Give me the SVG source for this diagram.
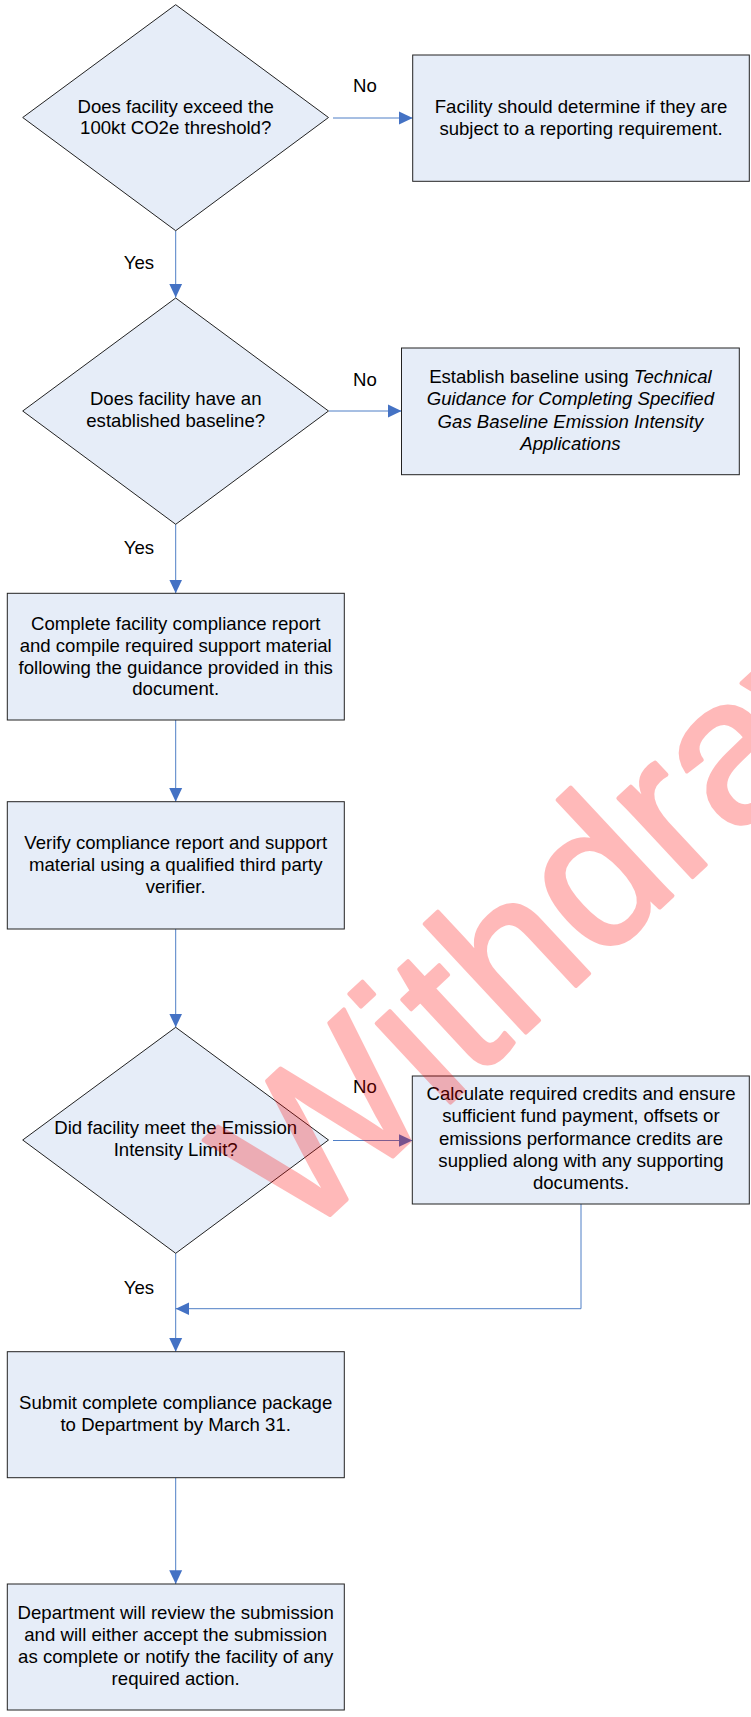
<svg xmlns="http://www.w3.org/2000/svg" width="751" height="1717" viewBox="0 0 751 1717">
<style>
.shape{fill:#e6edf8;stroke:#222;stroke-width:1}
.t{font-family:"Liberation Sans",Arial,sans-serif;font-size:18.6px;fill:#000;text-anchor:middle}
.i{font-style:italic}
.c{fill:none;stroke:#4f7fc6;stroke-width:1}
.wm{font-family:"Liberation Sans",Arial,sans-serif;font-size:205px;fill:#ff0000;stroke:#ff0000;stroke-width:4;stroke-linejoin:round}
</style>
<defs>
<marker id="ah" markerUnits="userSpaceOnUse" markerWidth="14" markerHeight="14" viewBox="0 0 13 12" refX="12.7" refY="6" orient="auto">
<path d="M0,0 L12.7,6 L0,12 Z" fill="#4472c4"/>
</marker>
</defs>
<rect width="751" height="1717" fill="#fff"/>

<g id="connectors">
<path class="c" d="M333,118 H412.7" marker-end="url(#ah)"/>
<path class="c" d="M175.7,231 V297.5" marker-end="url(#ah)"/>
<path class="c" d="M329,411 H401.5" marker-end="url(#ah)"/>
<path class="c" d="M175.7,524.3 V593.3" marker-end="url(#ah)"/>
<path class="c" d="M175.7,720 V801.7" marker-end="url(#ah)"/>
<path class="c" d="M175.7,929 V1027.3" marker-end="url(#ah)"/>
<path class="c" d="M333,1140.5 H412.3" marker-end="url(#ah)"/>
<path class="c" d="M175.7,1253.3 V1351.7" marker-end="url(#ah)"/>
<path class="c" d="M581,1204 V1308.7 H175.7" marker-end="url(#ah)"/>
<path class="c" d="M175.7,1477.7 V1584" marker-end="url(#ah)"/>
</g>

<g id="labels">
<text class="t" x="365" y="92.3">No</text>
<text class="t" x="139" y="269.3">Yes</text>
<text class="t" x="365" y="385.7">No</text>
<text class="t" x="139" y="554">Yes</text>
<text class="t" x="365" y="1093.3">No</text>
<text class="t" x="139" y="1294.3">Yes</text>
</g>

<g id="d1">
<polygon class="shape" points="175.7,4.7 328.5,117.5 175.7,230.7 22.7,117.5"/>
<text class="t" x="175.7" y="112.7">Does facility exceed the</text>
<text class="t" x="175.7" y="134">100kt CO2e threshold?</text>
</g>

<g id="b1">
<rect class="shape" x="412.7" y="55" width="336.6" height="126.3"/>
<text class="t" x="581" y="113.3">Facility should determine if they are</text>
<text class="t" x="581" y="135">subject to a reporting requirement.</text>
</g>

<g id="d2">
<polygon class="shape" points="175.7,298 328.5,411 175.7,524.3 22.7,411"/>
<text class="t" x="175.7" y="405.4">Does facility have an</text>
<text class="t" x="175.7" y="427">established baseline?</text>
</g>

<g id="b2">
<rect class="shape" x="401.5" y="348" width="337.8" height="126.7"/>
<text class="t" x="570.4" y="382.7">Establish baseline using <tspan class="i">Technical</tspan></text>
<text class="t i" x="570.4" y="405">Guidance for Completing Specified</text>
<text class="t i" x="570.4" y="427.5">Gas Baseline Emission Intensity</text>
<text class="t i" x="570.4" y="449.7">Applications</text>
</g>

<g id="b3">
<rect class="shape" x="7.3" y="593.3" width="337" height="126.7"/>
<text class="t" x="175.7" y="630">Complete facility compliance report</text>
<text class="t" x="175.7" y="651.8">and compile required support material</text>
<text class="t" x="175.7" y="673.6">following the guidance provided in this</text>
<text class="t" x="175.7" y="695.4">document.</text>
</g>

<g id="b4">
<rect class="shape" x="7.3" y="801.7" width="337" height="127.3"/>
<text class="t" x="175.7" y="848.7">Verify compliance report and support</text>
<text class="t" x="175.7" y="870.8">material using a qualified third party</text>
<text class="t" x="175.7" y="892.7">verifier.</text>
</g>

<g id="d3">
<polygon class="shape" points="175.7,1027.3 328.5,1140 175.7,1253.3 22.7,1140"/>
<text class="t" x="175.7" y="1134.4">Did facility meet the Emission</text>
<text class="t" x="175.7" y="1156">Intensity Limit?</text>
</g>

<g id="b5">
<rect class="shape" x="412.3" y="1076" width="337" height="128"/>
<text class="t" x="581" y="1100">Calculate required credits and ensure</text>
<text class="t" x="581" y="1122.3">sufficient fund payment, offsets or</text>
<text class="t" x="581" y="1144.6">emissions performance credits are</text>
<text class="t" x="581" y="1167">supplied along with any supporting</text>
<text class="t" x="581" y="1189.3">documents.</text>
</g>

<g id="b6">
<rect class="shape" x="7.3" y="1351.7" width="337" height="126"/>
<text class="t" x="175.7" y="1409">Submit complete compliance package</text>
<text class="t" x="175.7" y="1431">to Department by March 31.</text>
</g>

<g id="b7">
<rect class="shape" x="7.3" y="1584" width="337" height="126"/>
<text class="t" x="175.7" y="1619.3">Department will review the submission</text>
<text class="t" x="175.7" y="1641.1">and will either accept the submission</text>
<text class="t" x="175.7" y="1663">as complete or notify the facility of any</text>
<text class="t" x="175.7" y="1685">required action.</text>
</g>

<g id="watermark" opacity="0.27">
<text class="wm" transform="translate(299,1244) rotate(-43)">Withdrawn</text>
</g>
</svg>
